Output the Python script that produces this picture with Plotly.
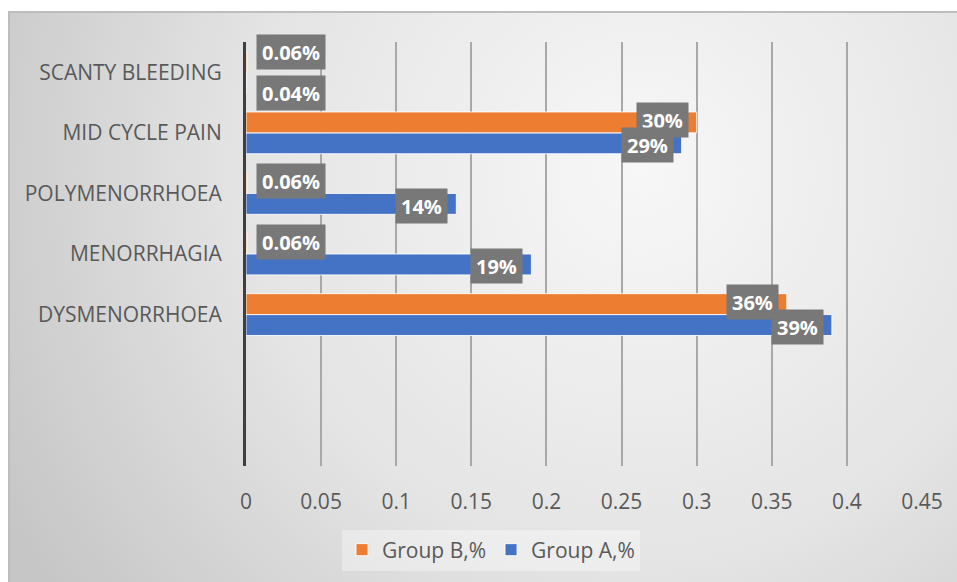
import base64
import plotly.graph_objects as go

# ---------------- data ----------------
categories = ["DYSMENORRHOEA", "MENORRHAGIA", "POLYMENORRHOEA", "MID CYCLE PAIN", "SCANTY BLEEDING"]
group_a = [0.39, 0.19, 0.14, 0.29, 0.0004]
group_b = [0.36, 0.0006, 0.0006, 0.30, 0.0006]
series_names = ["Group A,%", "Group B,%"]
x_ticks = [0, 0.05, 0.1, 0.15, 0.2, 0.25, 0.3, 0.35, 0.4, 0.45]
x_tick_text = ["0", "0.05", "0.1", "0.15", "0.2", "0.25", "0.3", "0.35", "0.4", "0.45"]
blank_slots = [" ", "  "]

# ---------------- style ----------------
W, H = 957, 582
ML, MR, MT, MB = 246, 35, 42, 116
PW, PH = W - ML - MR, H - MT - MB
BLUE, ORANGE = "#4472C4", "#ED7D31"
TXT = "#595959"
FONT = "Open Sans"
BARGAP = 0.31

slots = blank_slots + categories


def fmt(v):
    return f"{v*100:.2f}%" if v < 0.01 else f"{v*100:.0f}%"


fig = go.Figure()
for name, vals, col in [(series_names[0], group_a, BLUE), (series_names[1], group_b, ORANGE)]:
    fig.add_trace(go.Bar(
        y=slots, x=[None] * len(blank_slots) + vals, name=name, orientation="h",
        marker=dict(color=col, line=dict(color="rgba(255,255,255,0.85)", width=1)),
        hoverinfo="skip",
    ))

# data labels (grey boxes)
slot_px = PH / len(slots)
bar_px = slot_px * (1 - BARGAP) / 2
annos = []
for vals, sign in [(group_b, 1), (group_a, -1)]:
    for i, (c, v) in enumerate(zip(categories, vals)):
        small = v < 0.05
        other = group_a[i] if sign == 1 else group_b[i]
        spread = 10 if (small and other < 0.05) else 2
        annos.append(dict(
            x=v, y=c, xref="x", yref="y", text=fmt(v), showarrow=False,
            xanchor="left" if small else "right",
            xshift=9 if small else -8,
            yshift=sign * (bar_px / 2 + spread),
            font=dict(family=FONT, size=20, color="white", weight="bold"),
            bgcolor="#787878", borderpad=5, height=24, valign="middle",
        ))

# background gradient as svg image
svg = (
    f'<svg xmlns="http://www.w3.org/2000/svg" width="{W}" height="{H}" viewBox="0 0 {W} {H}">'
    '<defs><radialGradient id="g" gradientUnits="userSpaceOnUse" cx="640" cy="170" r="720">'
    '<stop offset="0" stop-color="#F7F7F7"/><stop offset="0.55" stop-color="#E4E4E4"/>'
    '<stop offset="1" stop-color="#C6C6C6"/></radialGradient></defs>'
    f'<rect width="{W}" height="{H}" fill="white"/>'
    f'<rect x="9" y="12" width="{W-8}" height="{H-11}" fill="url(#g)" stroke="#BDBDBD" stroke-width="2"/>'
    '</svg>'
)
src = "data:image/svg+xml;base64," + base64.b64encode(svg.encode()).decode()

fig.update_layout(
    width=W, height=H,
    margin=dict(l=ML, r=MR, t=MT, b=MB, pad=0),
    paper_bgcolor="white", plot_bgcolor="rgba(0,0,0,0)",
    barmode="group", bargap=BARGAP, bargroupgap=0.0,
    font=dict(family=FONT, color=TXT),
    images=[dict(source=src, xref="paper", yref="paper", x=-ML / PW, y=1 + MT / PH,
                 sizex=W / PW, sizey=H / PH, xanchor="left", yanchor="top",
                 sizing="stretch", layer="below")],
    xaxis=dict(range=[0, 0.45], tickvals=x_ticks, ticktext=x_tick_text,
               showgrid=True, gridcolor="#A8A8A8", gridwidth=1.5, zeroline=False,
               showline=False, ticks="outside", ticklen=17, tickcolor="rgba(0,0,0,0)",
               tickfont=dict(family=FONT, size=21, color=TXT)),
    yaxis=dict(type="category", categoryorder="array", categoryarray=slots,
               range=[-0.5, len(slots) - 0.5], showgrid=False, zeroline=False,
               showline=True, linecolor="#3F3F3F", linewidth=3,
               ticks="outside", ticklen=17, tickcolor="rgba(0,0,0,0)",
               tickfont=dict(family=FONT, size=21, color=TXT)),
    legend=dict(orientation="h", traceorder="reversed", x=(491 - ML) / PW, xanchor="center",
                y=-(550 - (MT + PH)) / PH, yanchor="middle",
                bgcolor="rgba(255,255,255,0.35)", borderwidth=0,
                font=dict(family=FONT, size=21, color=TXT)),
    annotations=annos,
    showlegend=True,
)

fig.write_html("out.html")
